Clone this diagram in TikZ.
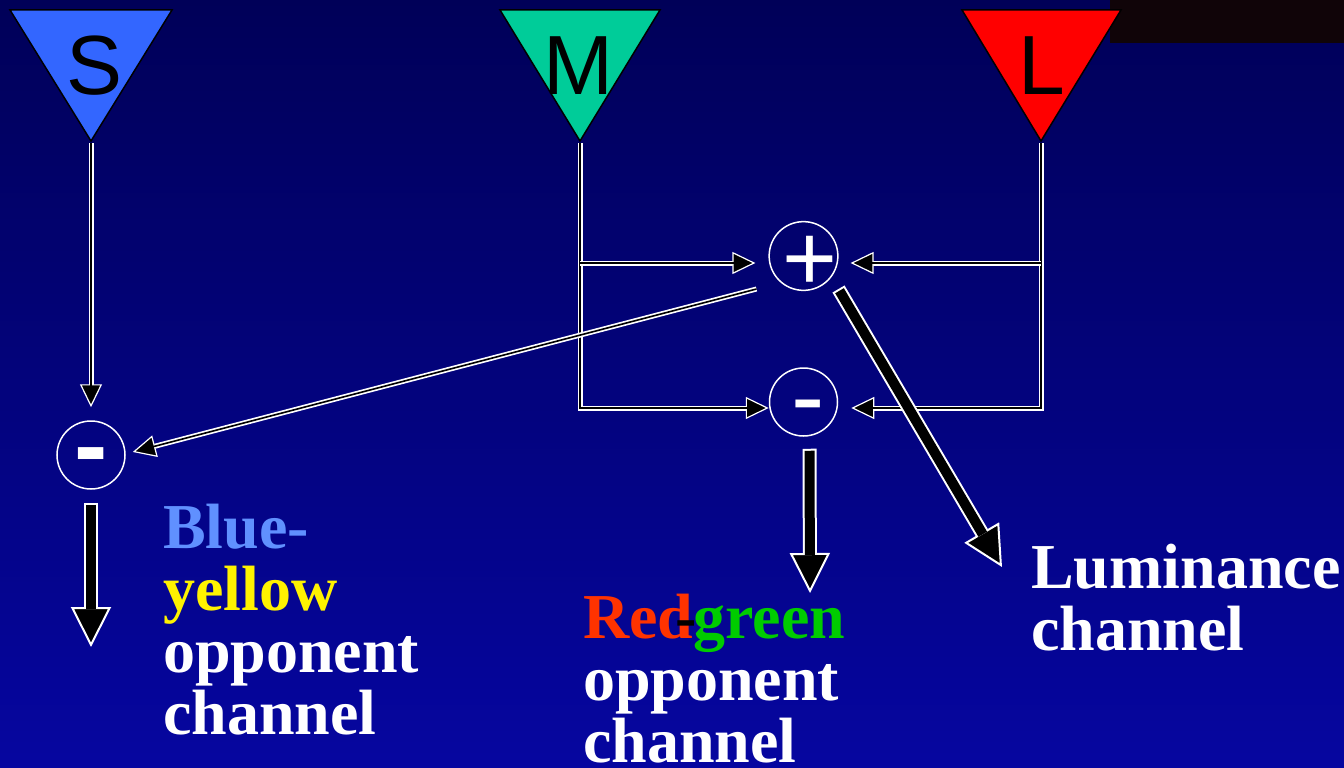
\documentclass[tikz,border=0pt]{standalone}
\usepackage{fontspec}
\setmainfont{Liberation Serif}
\newfontfamily\conefont{Liberation Sans}
\usetikzlibrary{arrows.meta}

\definecolor{bgtop}{RGB}{0,0,88}
\definecolor{bgbot}{RGB}{6,6,160}
\definecolor{corner}{RGB}{16,4,8}
\definecolor{scone}{RGB}{51,102,255}
\definecolor{mcone}{RGB}{0,204,153}
\definecolor{lcone}{RGB}{255,0,0}
\definecolor{bluetxt}{RGB}{96,144,255}
\definecolor{redtxt}{RGB}{255,51,0}
\definecolor{greentxt}{RGB}{0,204,0}

\begin{document}
\begin{tikzpicture}[x=1pt,y=-1pt,
  wire/.style={draw=white, line width=5pt,
    postaction={draw=black, line width=1.6pt}},
  sig/.style={draw=white, line width=5pt,
    -{Triangle[length=23pt,width=22pt,fill=black,line width=1.2pt]},
    postaction={draw=black, line width=1.6pt, -, shorten >=21pt}},
  outarrow/.style={draw=white, line width=14pt,
    -{Triangle[length=40pt,width=40pt,fill=black,line width=2pt]},
    postaction={draw=black, line width=10pt, -, shorten >=38pt, shorten <=2pt}},
  sum/.style={circle, draw=white, line width=1.5pt, minimum size=68pt,
    inner sep=0pt, text=white},
  cone/.style={anchor=base, inner sep=0pt, text=black,
    font=\conefont\fontsize{84}{84}\selectfont},
  lbl/.style={anchor=base west, align=left, inner sep=0pt, text=white,
    font=\bfseries\fontsize{64}{62}\selectfont}]

% background
\shade[top color=bgtop, bottom color=bgbot] (0,0) rectangle (1344,768);
\useasboundingbox (0,0) rectangle (1344,768);
\fill[corner] (1110,0) rectangle (1344,43);

% cones
\filldraw[fill=scone, draw=black, line width=1.5pt] (10,10) -- (172,10) -- (91,141) -- cycle;
\filldraw[fill=mcone, draw=black, line width=1.5pt] (500,10) -- (660,10) -- (580,141) -- cycle;
\filldraw[fill=lcone, draw=black, line width=1.5pt] (962,10) -- (1121,10) -- (1041,141) -- cycle;
\node[cone] (S) at (95,95) {S};
\node[cone] (M) at (578,95) {M};
\node[cone] (L) at (1042,95) {L};
\coordinate (Sa) at (91,143);
\coordinate (Ma) at (580,143);
\coordinate (La) at (1041,143);

% sum and difference units
\node[sum, font=\conefont\fontsize{94}{94}\selectfont] (plus) at (803.5,256)
  {\makebox[0pt]{\hspace*{13pt}\raisebox{-69pt}{\smash{+}}}};
\node[sum, font=\conefont\fontsize{100}{100}\selectfont] (minus) at (803.5,402)
  {\makebox[0pt]{\hspace*{9pt}\raisebox{-56pt}{\smash{-}}}};
\node[sum, font=\conefont\bfseries\fontsize{100}{100}\selectfont] (bymin) at (91,455)
  {\makebox[0pt]{\raisebox{-48pt}{\smash{-}}}};

% junctions on the M and L lines
\coordinate (Mj) at (580,263);
\coordinate (Lj) at (1041,263);

% cone signals
\draw[sig] (Sa) -- ([yshift=13pt]bymin.north);
\draw[sig] (Ma) |- ([yshift=-6pt]minus.west);
\draw[sig] (La) |- ([xshift=13pt,yshift=-6pt]minus.east);
\draw[sig] (Mj) -- ([xshift=-13pt,yshift=-7pt]plus.west);
\draw[sig] (Lj) -- ([xshift=12pt,yshift=-7pt]plus.east);
\draw[sig] ([shift={(-47,33)}]plus.center) -- ([xshift=7pt,yshift=3pt]bymin.east);

% output channels
\coordinate (byout) at (91,647);
\coordinate (rgout) at (810,593);
\coordinate (lumout) at (1002,567);
\draw[outarrow] ([yshift=-13pt]bymin.south) -- (byout);
\draw[outarrow] ([shift={(6,12)}]minus.south) -- (rgout);
\draw[outarrow] ([shift={(35,33)}]plus.center) -- (lumout);

% labels (placed at the baseline of their last line)
\node[lbl] (bylbl) at (163,734)
  {\textcolor{bluetxt}{Blue-}\\\textcolor{yellow}{yellow}\\opponent\\channel};
\node[lbl] (rglbl) at (583,762)
  {\textcolor{redtxt}{Red}\llap{\textcolor{black}{-}\kern-3pt}\textcolor{greentxt}{green}\\opponent\\channel};
\node[lbl] (lumlbl) at (1031,650) {Luminance\\channel};
\end{tikzpicture}
\end{document}
